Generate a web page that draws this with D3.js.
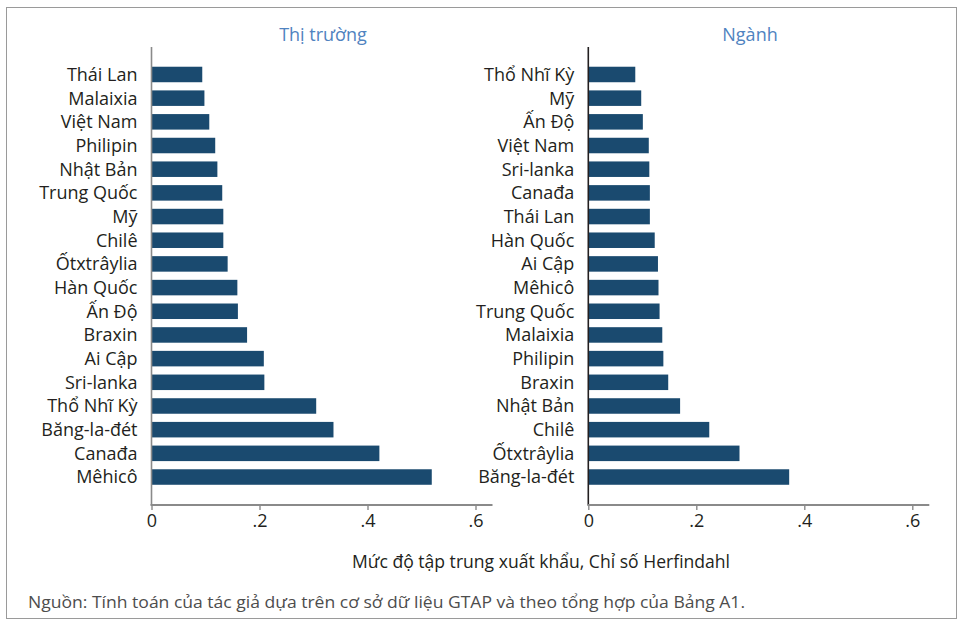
<!DOCTYPE html>
<html>
<head>
<meta charset="utf-8">
<script src="https://cdn.jsdelivr.net/npm/d3@7"></script>
<style>
  body { margin: 0; background: #fff; }
  text { font-family: "Open Sans", "Noto Sans", sans-serif; }
</style>
</head>
<body>
<svg id="chart" width="963" height="621"></svg>
<script>
// Thị trường panel
var marketNames = ['Thái Lan', 'Malaixia', 'Việt Nam', 'Philipin', 'Nhật Bản', 'Trung Quốc', 'Mỹ', 'Chilê',
  'Ốtxtrâylia', 'Hàn Quốc', 'Ấn Độ', 'Braxin', 'Ai Cập', 'Sri-lanka', 'Thổ Nhĩ Kỳ', 'Băng-la-đét', 'Canađa', 'Mêhicô'];
var marketValues = [0.094, 0.098, 0.107, 0.118, 0.122, 0.131, 0.133, 0.133,
  0.141, 0.159, 0.160, 0.177, 0.208, 0.209, 0.305, 0.337, 0.422, 0.519];

// Ngành panel
var sectorNames = ['Thổ Nhĩ Kỳ', 'Mỹ', 'Ấn Độ', 'Việt Nam', 'Sri-lanka', 'Canađa', 'Thái Lan', 'Hàn Quốc',
  'Ai Cập', 'Mêhicô', 'Trung Quốc', 'Malaixia', 'Philipin', 'Braxin', 'Nhật Bản', 'Chilê', 'Ốtxtrâylia', 'Băng-la-đét'];
var sectorValues = [0.087, 0.098, 0.101, 0.112, 0.113, 0.114, 0.114, 0.123,
  0.129, 0.130, 0.132, 0.137, 0.139, 0.148, 0.170, 0.224, 0.280, 0.372];

var tickValues = [0, 0.2, 0.4, 0.6];
var tickLabels = ['0', '.2', '.4', '.6'];

var svg = d3.select('#chart');

svg.append('rect')
  .attr('x', 6.5).attr('y', 7.5)
  .attr('width', 950).attr('height', 611)
  .attr('fill', 'none')
  .attr('stroke', '#9a9a9a')
  .attr('stroke-width', 1);

var axisY = 505;

function drawPanel(names, values, title, x0, titleX, yAxisColor) {
  var x = d3.scaleLinear().domain([0, 0.6]).range([x0, x0 + 324]);
  var y = d3.scaleBand().domain(names).range([62.7, 488.8]).paddingInner(0.345).paddingOuter(0.17);

  var g = svg.append('g');

  g.append('text')
    .attr('x', titleX).attr('y', 41)
    .attr('text-anchor', 'middle')
    .attr('font-size', 18)
    .attr('fill', '#4f83c0')
    .text(title);

  g.selectAll('rect.bar')
      .data(values)
    .enter().append('rect')
      .attr('class', 'bar')
      .attr('x', x(0))
      .attr('y', function(d, i) { return y(names[i]); })
      .attr('width', function(d) { return x(d) - x(0); })
      .attr('height', y.bandwidth())
      .attr('fill', '#1a4a6f');

  g.selectAll('text.cat')
      .data(names)
    .enter().append('text')
      .attr('class', 'cat')
      .attr('x', x0 - 14)
      .attr('y', function(d) { return y(d) + y.bandwidth() / 2; })
      .attr('dy', '0.36em')
      .attr('text-anchor', 'end')
      .attr('font-size', 18)
      .attr('fill', '#231f20')
      .text(function(d) { return d; });

  // vertical axis line
  g.append('line')
    .attr('x1', x(0)).attr('x2', x(0))
    .attr('y1', 47).attr('y2', axisY)
    .attr('stroke', yAxisColor)
    .attr('stroke-width', 1.6);

  // horizontal axis
  var ax = d3.axisBottom(x)
    .tickValues(tickValues)
    .tickFormat(function(d, i) { return tickLabels[i]; })
    .tickSize(5)
    .tickSizeOuter(0)
    .tickPadding(4);

  var axG = g.append('g')
    .attr('transform', 'translate(0,' + axisY + ')')
    .call(ax);
  axG.select('.domain').remove();
  axG.append('line')
    .attr('x1', x(0) - 1).attr('x2', x0 + 341)
    .attr('stroke', '#8a8a8a')
    .attr('stroke-width', 1.8);
  axG.selectAll('.tick line').attr('stroke', '#8a8a8a').attr('stroke-width', 1.4);
  axG.selectAll('.tick text')
    .attr('font-size', 18)
    .attr('fill', '#231f20')
    .style('font-family', '"Open Sans", "Noto Sans", sans-serif');
}

drawPanel(marketNames, marketValues, 'Thị trường', 151.5, 323, '#8a8a8a');
drawPanel(sectorNames, sectorValues, 'Ngành', 588.3, 750, '#231f20');

svg.append('text')
  .attr('x', 541).attr('y', 568)
  .attr('text-anchor', 'middle')
  .attr('font-size', 17.5)
  .attr('fill', '#231f20')
  .attr('textLength', 378)
  .attr('lengthAdjust', 'spacingAndGlyphs')
  .text('Mức độ tập trung xuất khẩu, Chỉ số Herfindahl');

svg.append('text')
  .attr('x', 28).attr('y', 608)
  .attr('font-size', 16)
  .attr('fill', '#4d4d4d')
  .attr('textLength', 717)
  .attr('lengthAdjust', 'spacingAndGlyphs')
  .text('Nguồn: Tính toán của tác giả dựa trên cơ sở dữ liệu GTAP và theo tổng hợp của Bảng A1.');
</script>
</body>
</html>
